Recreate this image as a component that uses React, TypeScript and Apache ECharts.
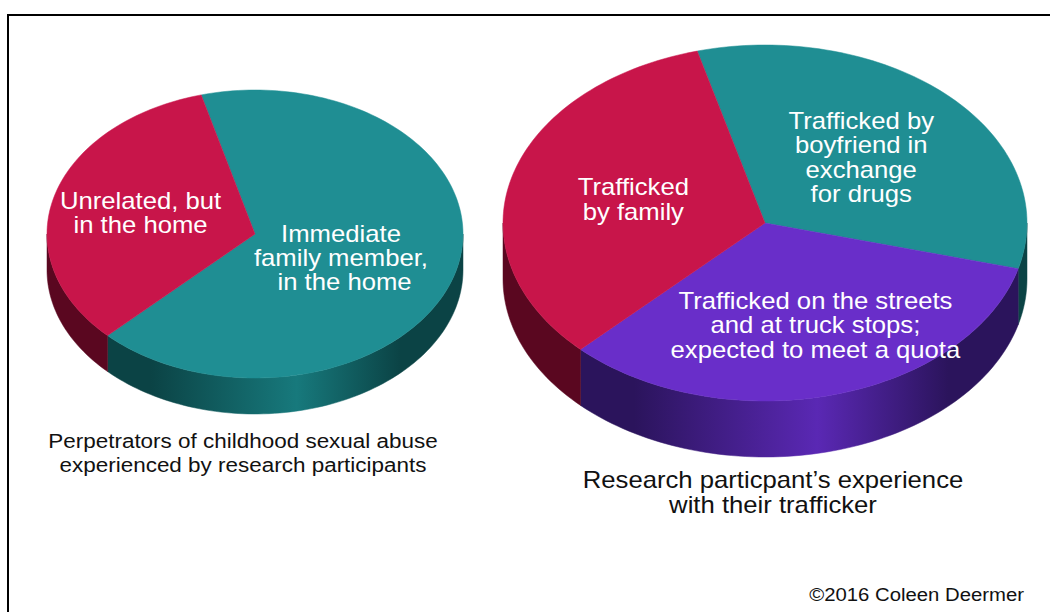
import React, { useEffect, useRef } from "react";
import * as echarts from "echarts";

// ---- Data ----
const abuseCategories = ["Immediate\nfamily member,\n in the home", "Unrelated, but\nin the home"];
const abuseValues = [66.7, 33.3];

const traffickerCategories = [
  "Trafficked by\nboyfriend in\nexchange\nfor drugs",
  "Trafficked on the streets\nand at truck stops;\nexpected to meet a quota",
  "Trafficked\nby family",
];
const traffickerValues = [33.3, 33.3, 33.4];

const abuseTitle = "Perpetrators of childhood sexual abuse\nexperienced by research participants";
const traffickerTitle = "Research particpant\u2019s experience\nwith their trafficker";
const creditText = "\u00a92016 Coleen Deermer";

// ---- Styles ----
const TEAL = "#1F8E93";
const CRIMSON = "#C8154A";
const PURPLE = "#692EC9";
const SIDE: Record<string, [string, string]> = {
  [TEAL]: ["#0B4345", "#17797C"],
  [CRIMSON]: ["#5A0720", "#960F38"],
  [PURPLE]: ["#2B145C", "#5A28B4"],
};
const FONT = '"Liberation Sans", Arial, Helvetica, sans-serif';
const START_ANGLE = 255; // degrees, screen clockwise from 3 o'clock
const STRETCH = 1.07;

type Geo = { cx: number; cy: number; rx: number; ry: number; depth: number };
const leftGeo: Geo = { cx: 255, cy: 234, rx: 208, ry: 144, depth: 36 };
const rightGeo: Geo = { cx: 765, cy: 223, rx: 262, ry: 178, depth: 56 };
const leftColors = [TEAL, CRIMSON];
const rightColors = [TEAL, PURPLE, CRIMSON];
// label anchor: [radius factor, angle offset in degrees]
const leftLabelPos: [number, number][] = [
  [0.446, 7],
  [0.57, 0],
];
const rightLabelPos: [number, number][] = [
  [0.52, 0],
  [0.604, -3.4],
  [0.52, 0],
];

const DEG = Math.PI / 180;

function sliceAngles(values: number[], i: number): [number, number] {
  const total = values.reduce((s, v) => s + v, 0);
  let acc = 0;
  for (let k = 0; k < i; k++) acc += values[k];
  return [START_ANGLE + (acc / total) * 360, START_ANGLE + ((acc + values[i]) / total) * 360];
}

function arcPts(g: Geo, a1: number, a2: number, yOff: number) {
  const n = Math.max(2, Math.ceil(Math.abs(a2 - a1) / 1.5));
  const pts: number[][] = [];
  for (let i = 0; i <= n; i++) {
    const t = (a1 + ((a2 - a1) * i) / n) * DEG;
    pts.push([g.cx + g.rx * Math.cos(t), g.cy + yOff + g.ry * Math.sin(t)]);
  }
  return pts;
}

function pieSeries(
  id: string,
  names: string[],
  values: number[],
  g: Geo,
  colors: string[],
  labelPos: [number, number][],
  fontSize: number,
  lineHeight: number
) {
  const data = values.map((v, i) => ({ name: names[i], value: v }));
  const sides = {
    type: "custom",
    id: id + "-side",
    coordinateSystem: "none",
    silent: true,
    z: 1,
    data,
    renderItem: (params: any) => {
      const i = params.dataIndex;
      const [a1, a2] = sliceAngles(values, i);
      const [dark, light] = SIDE[colors[i]];
      const fill = new echarts.graphic.LinearGradient(
        g.cx - g.rx,
        0,
        g.cx + g.rx,
        0,
        [
          { offset: 0, color: dark },
          { offset: 0.25, color: dark },
          { offset: 0.6, color: light },
          { offset: 0.85, color: dark },
          { offset: 1, color: dark },
        ],
        true
      );
      const children: any[] = [];
      for (const k of [0, 360, 720]) {
        const b1 = Math.max(a1, k);
        const b2 = Math.min(a2, k + 180);
        if (b2 > b1) {
          const top = arcPts(g, b1, b2, 0);
          const bot = arcPts(g, b1, b2, g.depth).reverse();
          children.push({
            type: "polygon",
            shape: { points: top.concat(bot) },
            style: { fill, stroke: fill, lineWidth: 0.5 },
          });
        }
      }
      return { type: "group", children };
    },
  };
  const tops = {
    type: "custom",
    id: id + "-top",
    coordinateSystem: "none",
    silent: true,
    z: 2,
    data,
    renderItem: (params: any) => {
      const i = params.dataIndex;
      const [a1, a2] = sliceAngles(values, i);
      const pts = [[g.cx, g.cy]].concat(arcPts(g, a1, a2, 0));
      const [lr, off] = labelPos[i];
      const mid = ((a1 + a2) / 2 + off) * DEG;
      return {
        type: "group",
        children: [
          {
            type: "polygon",
            shape: { points: pts },
            style: { fill: colors[i], stroke: colors[i], lineWidth: 0.5 },
          },
          {
            type: "text",
            x: g.cx + lr * g.rx * Math.cos(mid),
            y: g.cy + lr * g.ry * Math.sin(mid),
            scaleX: STRETCH,
            z2: 10,
            style: {
              text: names[i],
              fill: "#ffffff",
              fontSize,
              fontFamily: FONT,
              align: "center",
              verticalAlign: "middle",
              lineHeight,
            },
          },
        ],
      };
    },
  };
  return [sides, tops];
}

export default function App() {
  const ref = useRef<HTMLDivElement>(null);
  useEffect(() => {
    document.body.style.margin = "0";
    const chart = echarts.init(ref.current!, null, { renderer: "svg" });
    chart.setOption({
      animation: false,
      backgroundColor: "#ffffff",
      graphic: [
        {
          type: "polyline",
          shape: { points: [[8, 640], [8, 15], [1060, 15]] },
          style: { fill: "none", stroke: "#000", lineWidth: 2 },
          silent: true,
        },
        {
          type: "text",
          x: 243,
          y: 453,
          scaleX: STRETCH,
          style: {
            text: abuseTitle,
            fill: "#111",
            fontSize: 21,
            fontFamily: FONT,
            align: "center",
            verticalAlign: "middle",
            lineHeight: 24,
          },
        },
        {
          type: "text",
          x: 773,
          y: 492.5,
          scaleX: STRETCH,
          style: {
            text: traffickerTitle,
            fill: "#111",
            fontSize: 24,
            fontFamily: FONT,
            align: "center",
            verticalAlign: "middle",
            lineHeight: 25,
          },
        },
        {
          type: "text",
          x: 1024,
          y: 594,
          scaleX: STRETCH,
          style: {
            text: creditText,
            fill: "#111",
            fontSize: 19,
            fontFamily: FONT,
            align: "right",
            verticalAlign: "middle",
          },
        },
      ],
      series: [
        ...pieSeries("abuse", abuseCategories, abuseValues, leftGeo, leftColors, leftLabelPos, 24, 24),
        ...pieSeries(
          "trafficker",
          traffickerCategories,
          traffickerValues,
          rightGeo,
          rightColors,
          rightLabelPos,
          24,
          24.5
        ),
      ],
    });
    return () => chart.dispose();
  }, []);
  return <div ref={ref} style={{ width: 1050, height: 612 }} />;
}
